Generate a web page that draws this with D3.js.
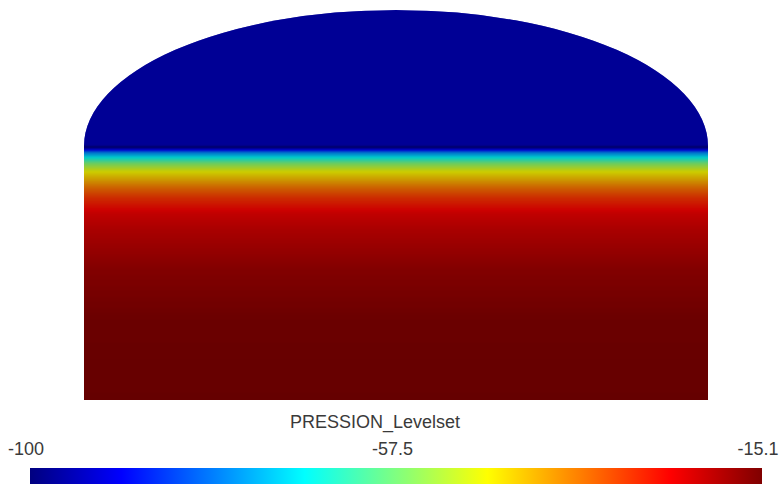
<!DOCTYPE html>
<html>
<head>
<meta charset="utf-8">
<script src="https://cdn.jsdelivr.net/npm/d3@7"></script>
<style>
  html, body { margin: 0; padding: 0; background: #fff; }
  svg { display: block; }
  text { font-family: "Liberation Sans", Arial, sans-serif; fill: #3a3a3a; }
</style>
</head>
<body>
<svg id="chart" width="784" height="485"></svg>
<script>
// Vessel geometry (model units): flat floor, vertical walls, elliptical cap
const vesselX = [-1, 1];
const wallTop = 0.814;
const capTop = 1.25;

// Vertical pressure profile: height above the floor -> PRESSION_Levelset value
const profileHeight = [0.000, 0.256, 0.417, 0.545, 0.599, 0.651, 0.683, 0.715, 0.737, 0.760, 0.779, 0.795, 0.806, 0.812, 0.820, 1.250];
const profileValue  = [-15.1, -15.6, -18.0, -22.0, -24.5, -30.5, -36.0, -43.0, -48.0, -57.0, -68.0, -78.0, -92.0, -100.0, -95.0, -95.0];

// Colour bar range and labels
const rangeMin = -100;
const rangeMax = -15.1;
const tickValues = [-100, -57.5, -15.1];
const tickLabels = ["-100", "-57.5", "-15.1"];
const fieldName = "PRESSION_Levelset";

const svg = d3.select("#chart");

// Jet colour map on t in [0,1]
function jet(t) {
  const c = v => Math.max(0, Math.min(1, v));
  const r = c(1.5 - Math.abs(4 * t - 3));
  const g = c(1.5 - Math.abs(4 * t - 2));
  const b = c(1.5 - Math.abs(4 * t - 1));
  return d3.rgb(r * 255, g * 255, b * 255);
}
const color = d3.scaleSequential(jet).domain([rangeMin, rangeMax]).clamp(true);

// Surface shading applied to the lit field
const shade = 0.8;
function shaded(v) {
  const c = d3.rgb(color(v));
  return d3.rgb(c.r * shade, c.g * shade, c.b * shade).formatHex();
}

const x = d3.scaleLinear().domain(vesselX).range([84, 708]);
const y = d3.scaleLinear().domain([0, capTop]).range([400, 10]);
const profile = d3.scaleLinear().domain(profileHeight).range(profileValue).clamp(true);

// Vessel outline
const rx = (x(vesselX[1]) - x(vesselX[0])) / 2;
const ry = y(wallTop) - y(capTop);
const outline = `M${x(vesselX[0])},${y(0)} L${x(vesselX[0])},${y(wallTop)} ` +
  `A${rx},${ry} 0 0 1 ${x(vesselX[1])},${y(wallTop)} L${x(vesselX[1])},${y(0)} Z`;

const defs = svg.append("defs");
defs.append("clipPath").attr("id", "vessel").append("path").attr("d", outline);

// Field drawn as thin horizontal bands sampled from the profile
const step = 1;
const bands = d3.range(0, capTop, step / 312);
svg.append("g")
  .attr("clip-path", "url(#vessel)")
  .selectAll("rect")
  .data(bands)
  .join("rect")
  .attr("x", x(vesselX[0]))
  .attr("width", x(vesselX[1]) - x(vesselX[0]))
  .attr("y", d => y(d) - step)
  .attr("height", step + 0.6)
  .attr("fill", d => shaded(profile(d + step / 624)));

// Colour bar
const bar = d3.scaleLinear().domain([rangeMin, rangeMax]).range([30, 762]);
const grad = defs.append("linearGradient").attr("id", "jetbar")
  .attr("x1", "0%").attr("x2", "100%").attr("y1", "0%").attr("y2", "0%");
d3.range(0, 1.0001, 1 / 64).forEach(t => {
  grad.append("stop").attr("offset", (t * 100) + "%")
    .attr("stop-color", color(rangeMin + t * (rangeMax - rangeMin)));
});
svg.append("rect")
  .attr("x", bar(rangeMin)).attr("y", 468)
  .attr("width", bar(rangeMax) - bar(rangeMin)).attr("height", 16)
  .attr("fill", "url(#jetbar)");

svg.append("text")
  .attr("x", 375).attr("y", 428)
  .attr("text-anchor", "middle")
  .attr("font-size", 18)
  .text(fieldName);

svg.selectAll("text.tick")
  .data(tickValues)
  .join("text")
  .attr("class", "tick")
  .attr("x", d => bar(d) - 4)
  .attr("y", 455)
  .attr("text-anchor", "middle")
  .attr("font-size", 18)
  .text((d, i) => tickLabels[i]);
</script>
</body>
</html>
